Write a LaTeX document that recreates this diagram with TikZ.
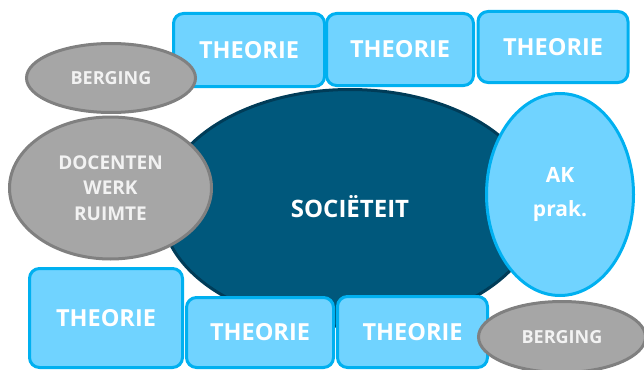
\documentclass[tikz,border=0pt]{standalone}
\usepackage{fontspec}
\setmainfont{Open Sans}
\usepackage{tikz}
\usetikzlibrary{shapes.geometric}

\definecolor{lokaal}{RGB}{112,211,255}
\definecolor{lokaalrand}{RGB}{0,176,240}
\definecolor{berg}{RGB}{166,166,166}
\definecolor{bergrand}{RGB}{128,128,128}
\definecolor{soc}{RGB}{0,88,124}
\definecolor{socrand}{RGB}{0,60,88}

\tikzset{
  lokaal/.style={draw=lokaalrand, fill=lokaal, line width=3pt, rounded corners=10pt,
    text=white, font=\bfseries\fontsize{23.5}{26}\selectfont, inner sep=0pt},
  berging/.style={ellipse, draw=bergrand, fill=berg, line width=3pt, inner sep=0pt,
    text=white!95!black, align=center},
  practicum/.style={ellipse, draw=lokaalrand, fill=lokaal, line width=3pt, inner sep=0pt,
    text=white, align=center, font=\bfseries\fontsize{21}{34}\selectfont}
}

\begin{document}
\begin{tikzpicture}[x=1pt, y=-1pt]

      \useasboundingbox (0,0) rectangle (644,369);

      % de societeit in het midden
      \node[ellipse, draw=socrand, fill=soc, line width=3pt, minimum width=377pt, minimum height=237pt,
        inner sep=0pt, text=white, font=\bfseries\fontsize{24}{28}\selectfont] (societeit) at (350,208) {\raisebox{4pt}{SOCIËTEIT}};

      % theorielokalen boven
      \node[lokaal, minimum width=151pt, minimum height=73pt] (theorie1) at (249,50) {THEORIE};
      \node[lokaal, minimum width=147pt, minimum height=72pt] (theorie2) at (400,49.5) {THEORIE};
      \node[lokaal, minimum width=150pt, minimum height=71pt] (theorie3) at (553,47) {THEORIE};

      % theorielokalen onder
      \node[lokaal, minimum width=153pt, minimum height=99pt] (theorie4) at (106,318) {\raisebox{-2pt}{THEORIE}};
      \node[lokaal, minimum width=147pt, minimum height=70pt] (theorie5) at (260,332.5) {THEORIE};
      \node[lokaal, minimum width=150pt, minimum height=71pt] (theorie6) at (412.5,332) {THEORIE};

      % bergingen en docentenkamer
      \node[berging, minimum width=169pt, minimum height=69pt,
        font=\bfseries\fontsize{18}{21}\selectfont] (berging1) at (111,78) {BERGING};
      \node[berging, minimum width=202pt, minimum height=142pt,
        font=\bfseries\fontsize{19}{25.5}\selectfont] (docenten) at (110.5,188) {DOCENTEN\\WERK\\RUIMTE};
      \node[berging, minimum width=167pt, minimum height=71pt,
        font=\bfseries\fontsize{18}{21}\selectfont] (berging2) at (562,337) {BERGING};

      % practicumlokaal
      \node[practicum, minimum width=147pt, minimum height=202pt] (ak) at (560,194.5)
        {\raisebox{-3pt}{AK}\\\raisebox{-3pt}{prak.}};

\end{tikzpicture}
\end{document}
